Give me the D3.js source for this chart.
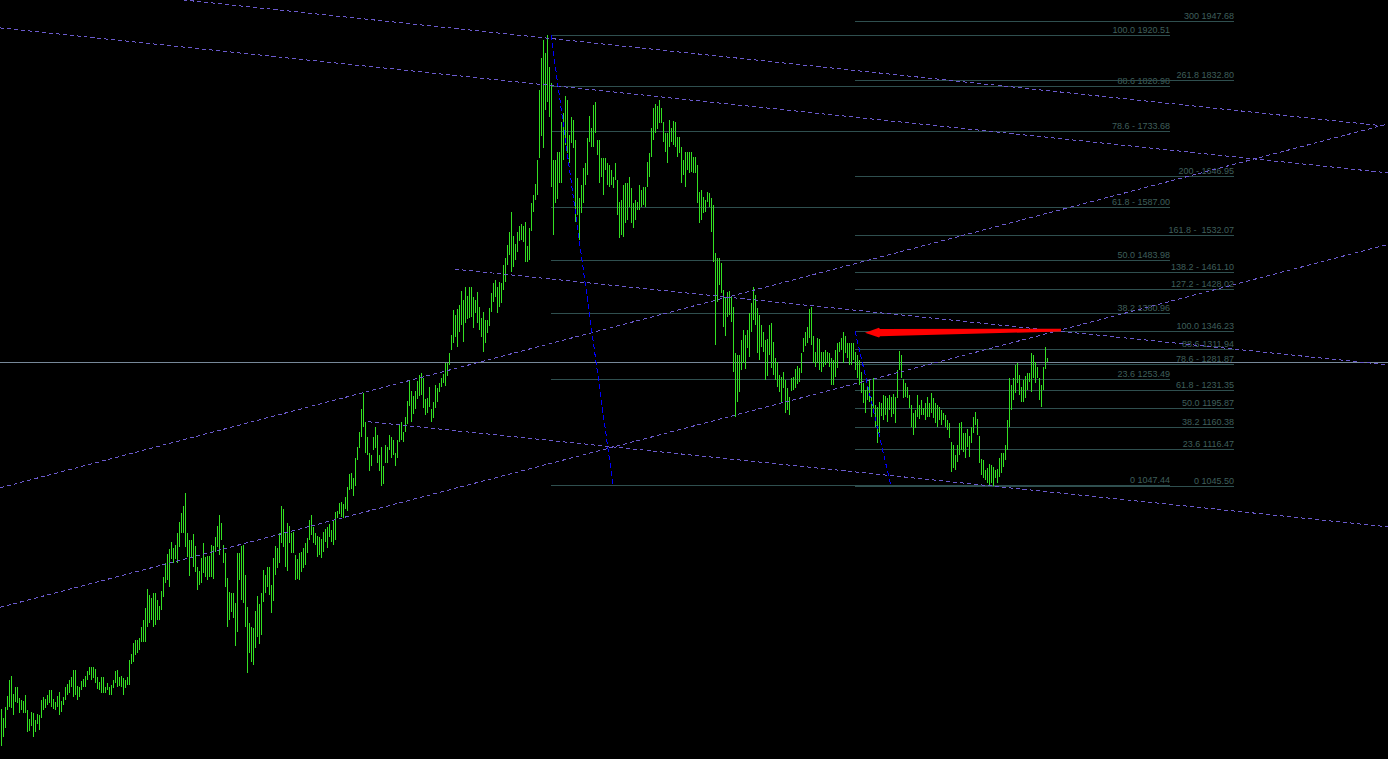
<!DOCTYPE html>
<html><head><meta charset="utf-8">
<script src="https://cdn.jsdelivr.net/npm/d3@7/dist/d3.min.js"></script>
<style>html,body{margin:0;padding:0;background:#000;overflow:hidden}text{white-space:pre}</style>
</head><body><svg id="c" width="1388" height="759"></svg>
<script>
// Weekly gold (XAUUSD) bars, high and low of each week, oldest first
const weekHigh = [
613,596,617,638,669,677,642,656,656,634,
631,629,640,611,594,607,605,592,603,602,
631,636,633,640,650,650,633,627,638,646,
629,636,656,662,669,675,689,689,658,656,
667,671,677,687,695,695,695,691,675,665,
675,675,656,664,656,660,669,687,689,675,
677,673,669,675,708,720,741,747,747,751,
772,786,809,846,834,829,838,838,825,813,
842,869,896,914,924,937,926,931,955,976,
994,1007,1032,955,941,941,953,929,888,881,
906,935,908,910,910,931,929,947,968,990,
974,931,916,867,840,838,838,819,916,916,
929,931,873,811,780,772,770,803,832,817,
838,883,873,889,889,854,906,929,926,955,
1007,1000,957,974,968,955,957,912,904,916,
918,926,935,945,980,990,966,955,949,947,
943,957,962,966,972,960,980,995,997,1013,
1015,1011,1024,1044,1069,1071,1061,1100,1121,1150,
1195,1226,1170,1141,1110,1106,1141,1160,1145,1106,
1121,1085,1125,1121,1145,1141,1135,1110,1135,1166,
1170,1150,1180,1211,1251,1230,1220,1230,1249,1261,
1265,1255,1215,1217,1238,1195,1209,1242,1236,1246,
1255,1263,1284,1284,1304,1339,1387,1378,1389,1397,
1424,1407,1432,1414,1432,1432,1412,1407,1422,1393,
1372,1383,1368,1368,1391,1420,1440,1445,1432,1442,
1440,1475,1488,1513,1538,1577,1531,1515,1538,1550,
1554,1550,1558,1511,1546,1595,1610,1632,1678,1814,
1876,1911,1886,1920.5,1859,1828,1678,1678,1694,1694,
1752,1769,1802,1795,1727,1762,1756,1717,1643,1604,
1630,1663,1672,1721,1764,1740,1785,1791,1717,1717,
1682,1682,1682,1672,1668,1659,1645,1672,1639,1597,
1601,1630,1634,1634,1645,1624,1595,1601,1597,1630,
1620,1626,1626,1674,1692,1740,1779,1787,1783,1795,
1779,1752,1731,1731,1756,1740,1754,1752,1723,1723,
1703,1678,1694,1694,1694,1694,1684,1684,1668,1616,
1620,1606,1601,1616,1614,1604,1591,1498,1488,1488,
1478,1426,1412,1422,1424,1412,1393,1304,1300,1300,
1329,1348,1339,1348,1381,1401,1432,1416,1391,1378,
1358,1345,1329,1331,1358,1362,1325,1294,1286,1261,
1257,1267,1251,1236,1218,1255,1257,1273,1279,1275,
1304,1333,1345,1354,1389,1393,1337,1306,1333,1331,
1306,1306,1310,1306,1304,1294,1290,1310,1323,1325,
1333,1345,1337,1323,1323,1323,1323,1306,1300,1290,
1267,1246,1232,1238,1251,1218,1255,1203,1199,1209,
1207,1222,1220,1217,1222,1218,1224,1218,1271,1308,
1300,1253,1246,1238,1222,1203,1187,1193,1222,1203,
1213,1197,1207,1218,1207,1226,1217,1207,1203,1199,
1193,1187,1184,1174,1168,1131,1125,1106,1125,1168,
1170,1149,1149,1156,1143,1160,1180,1189,1176,1143,
1098,1096,1077,1081,1088,1087,1083,1077,1079,1100,
1110,1110,1125,1174,1255,1242,1255,1281,1284,1261,
1238,1251,1259,1265,1265,1304,1300,1286,1277,1255,
1242,1277,1315,1294];
const weekLow = [
541,559,576,611,617,615,602,627,625,605,
611,605,605,568,570,580,559,568,584,572,
596,611,615,621,625,617,613,611,617,602,
607,621,631,640,644,656,636,640,631,636,
650,656,656,669,679,669,673,664,652,650,
644,644,644,650,640,640,654,664,656,658,
656,640,654,660,660,701,704,718,722,728,
743,743,743,772,780,786,772,776,786,786,
805,830,858,864,850,903,896,903,896,928,
955,955,928,908,871,906,888,879,844,854,
858,877,869,864,869,869,866,918,928,912,
941,896,850,772,786,801,790,735,762,864,
825,819,772,683,722,704,699,731,753,739,
757,821,838,850,834,799,823,873,887,896,
935,928,888,881,935,916,916,864,866,864,
879,887,893,916,941,951,935,931,908,912,
906,918,937,926,947,937,931,941,984,991,
986,984,1001,997,1038,1040,1026,1046,1096,1119,
1141,1160,1110,1106,1075,1085,1116,1119,1090,1075,
1046,1050,1090,1090,1116,1100,1106,1085,1100,1131,
1135,1131,1150,1166,1201,1170,1186,1195,1215,1220,
1222,1197,1184,1187,1199,1170,1178,1197,1209,1228,
1238,1246,1240,1259,1281,1310,1323,1335,1315,1345,
1358,1325,1362,1370,1372,1374,1352,1381,1362,1348,
1335,1306,1323,1343,1356,1383,1403,1412,1381,1393,
1401,1426,1442,1475,1494,1461,1471,1484,1500,1521,
1523,1519,1480,1480,1484,1540,1577,1601,1610,1682,
1725,1701,1775,1791,1762,1626,1533,1595,1603,1634,
1634,1678,1707,1692,1672,1711,1701,1558,1572,1523,
1575,1595,1630,1649,1713,1703,1703,1731,1688,1634,
1645,1610,1659,1630,1626,1630,1624,1639,1572,1527,
1533,1529,1556,1562,1587,1556,1546,1562,1581,1581,
1587,1591,1587,1626,1645,1684,1717,1731,1738,1750,
1750,1713,1694,1672,1703,1713,1707,1703,1684,1692,
1634,1649,1626,1659,1653,1655,1653,1653,1595,1556,
1562,1575,1577,1597,1587,1538,1480,1319,1403,1436,
1420,1354,1337,1374,1378,1364,1267,1180,1209,1228,
1271,1284,1273,1313,1296,1345,1368,1358,1304,1290,
1315,1306,1251,1259,1300,1275,1261,1251,1238,1228,
1209,1236,1187,1193,1184,1230,1232,1236,1244,1248,
1265,1306,1317,1323,1333,1319,1284,1277,1284,1271,
1267,1277,1281,1284,1277,1242,1242,1257,1275,1306,
1310,1284,1304,1294,1281,1281,1290,1271,1255,1242,
1226,1207,1187,1213,1209,1180,1197,1160,1129,1149,
1182,1174,1184,1170,1193,1180,1186,1168,1217,1271,
1255,1217,1218,1217,1197,1160,1145,1158,1180,1176,
1184,1184,1174,1180,1180,1187,1178,1168,1160,1174,
1164,1174,1160,1154,1139,1073,1081,1077,1092,1106,
1116,1112,1100,1121,1102,1129,1149,1164,1145,1090,
1067,1061,1057,1052,1048,1052,1046,1061,1052,1063,
1071,1083,1096,1116,1160,1193,1213,1226,1246,1222,
1209,1209,1217,1232,1248,1228,1255,1246,1255,1213,
1199,1232,1273,1286];

// Fibonacci retracement 1 (1920.51 high -> 1047.44 low)
const fibA_levels = ["100.0 ","88.6 ","78.6 - ","61.8 - ","50.0 ","38.2 ","23.6 ","0 "];
const fibA_prices = [1920.51,1820.98,1733.68,1587.00,1483.98,1380.96,1253.49,1047.44];
const fibA_span = [275, 584.5];   // bar index start / end
// Fibonacci expansion 2 (1045.50 low -> 1346.23)
const fibB_levels = ["300 ","261.8 ","200 - ","161.8 -  ","138.2 - ","127.2 - ","100.0 ","88.6 ","78.6 - ","61.8 - ","50.0 ","38.2 ","23.6 ","0 "];
const fibB_prices = [1947.68,1832.80,1646.95,1532.07,1461.10,1428.02,1346.23,1311.94,1281.87,1231.35,1195.87,1160.38,1116.47,1045.50];
const fibB_span = [427, 616.5];

// trend lines: [barIndex1, price1, barIndex2, price2]
const channelLines = [
  [91, 1988.6, 693, 1743.4],
  [-0.5, 1934.3, 693.5, 1653.0],
  [-0.5, 1041.9, 693.5, 1748.0],
  [-0.5, 810.0, 693.5, 1514.3],
  [227, 1466.2, 693.5, 1280.5],
  [183.5, 1170.3, 693.5, 966.2]
];
const steepLines = [
  [275, 1920.51, 306, 1047.44],
  [427, 1346.23, 445, 1045.50]
];
const arrowTail = [530, 1348.0];
const arrowTip = [432, 1342.6];
const bidPrice = 1286.9;

const W = 1388, H = 759;
const svg = d3.select("#c");
svg.append("rect").attr("width", W).attr("height", H).attr("fill", "#000");

const x = d3.scaleLinear().domain([0, 523]).range([1, 1047]);
const y = d3.scaleLinear().domain([1047.44, 1920.51]).range([485, 35]);
const py = p => Math.round(y(p)) + 0.5;

// current price line
svg.append("line").attr("x1", 0).attr("x2", W)
  .attr("y1", py(bidPrice)).attr("y2", py(bidPrice))
  .attr("stroke", "#778899").attr("stroke-width", 1).attr("shape-rendering", "crispEdges");

// fib lines
function drawFib(levels, prices, span, cls) {
  const g = svg.append("g").attr("class", cls);
  const x1 = Math.round(x(span[0])), x2 = Math.round(x(span[1]));
  g.selectAll("line").data(prices).join("line")
    .attr("x1", x1).attr("x2", x2)
    .attr("y1", d => py(d)).attr("y2", d => py(d))
    .attr("stroke", "#2f4f4f").attr("stroke-width", 1).attr("shape-rendering", "crispEdges");
  g.selectAll("text").data(prices).join("text")
    .attr("x", x2).attr("y", d => Math.round(y(d)) - 2)
    .attr("text-anchor", "end")
    .attr("font-family", "Liberation Sans, Arial, sans-serif")
    .attr("font-size", 9)
    .attr("fill", "#3f5f5b")
    .text((d, i) => levels[i] + d.toFixed(2));
}
drawFib(fibA_levels, fibA_prices, fibA_span, "fibA");
drawFib(fibB_levels, fibB_prices, fibB_span, "fibB");

// bars
svg.append("g").selectAll("rect").data(weekHigh).join("rect")
  .attr("x", (d, i) => Math.round(x(i)))
  .attr("y", d => Math.round(y(d)))
  .attr("width", 1)
  .attr("height", (d, i) => Math.max(1, Math.round(y(weekLow[i])) - Math.round(y(d))))
  .attr("fill", "#33e022")
  .attr("shape-rendering", "crispEdges");

// channel lines
svg.append("g").selectAll("line").data(channelLines).join("line")
  .attr("x1", d => x(d[0])).attr("y1", d => y(d[1]))
  .attr("x2", d => x(d[2])).attr("y2", d => y(d[3]))
  .attr("stroke", "#6a5acd").attr("stroke-width", 1)
  .attr("stroke-dasharray", "4,3").attr("shape-rendering", "crispEdges");

svg.append("g").selectAll("line").data(steepLines).join("line")
  .attr("x1", d => x(d[0])).attr("y1", d => y(d[1]))
  .attr("x2", d => x(d[2])).attr("y2", d => y(d[3]))
  .attr("stroke", "#0000ff").attr("stroke-width", 1)
  .attr("stroke-dasharray", "5,3").attr("shape-rendering", "crispEdges");

// red arrow
(function () {
  const tx = x(arrowTail[0]), ty = y(arrowTail[1]);
  const hx = x(arrowTip[0]), hy = y(arrowTip[1]);
  const L = Math.hypot(tx - hx, ty - hy);
  const ux = (tx - hx) / L, uy = (ty - hy) / L;   // from tip toward tail
  const nx = -uy, ny = ux;
  const pt = (a, b) => [hx + ux * a + nx * b, hy + uy * a + ny * b];
  const pts = [
    pt(0, 0), pt(14, -4.8), pt(15, -3.6), pt(L, -1.4),
    pt(L, 1.4), pt(15, 3.6), pt(14, 4.8)
  ];
  svg.append("polygon").attr("points", pts.map(p => p.join(",")).join(" "))
    .attr("fill", "#ff0000");
})();
</script>
</body></html>
